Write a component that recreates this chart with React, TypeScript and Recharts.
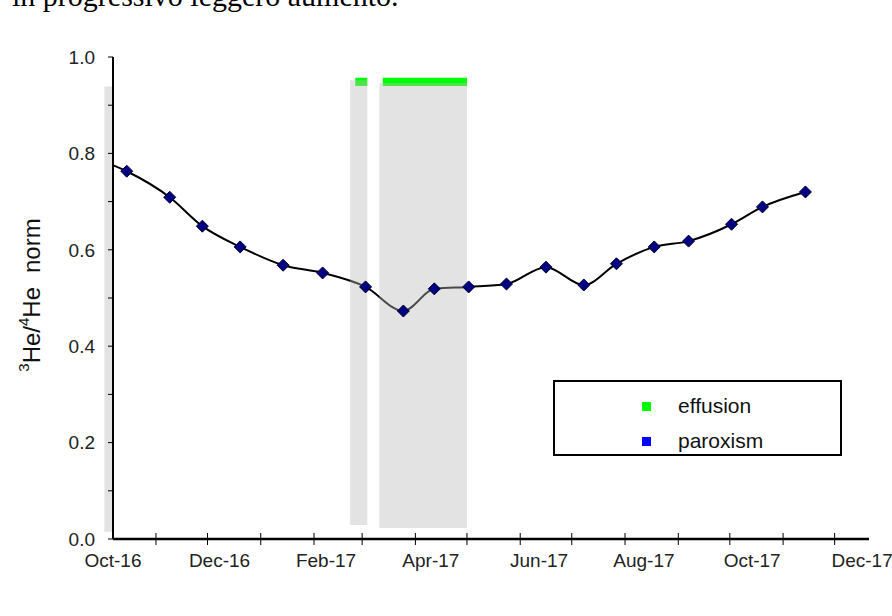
import { LineChart, Line, XAxis, YAxis, ReferenceArea } from 'recharts';

const day = (s: string) => Date.parse(s + 'T00:00:00Z');

// He isotope samples (first one sits left of the axis start, clipped like the original)
const sampleDates = [
  '2016-09-17', '2016-10-15', '2016-11-09', '2016-11-28', '2016-12-20',
  '2017-01-14', '2017-02-06', '2017-03-03', '2017-03-25', '2017-04-12',
  '2017-05-02', '2017-05-24', '2017-06-16', '2017-07-08', '2017-07-27',
  '2017-08-18', '2017-09-07', '2017-10-02', '2017-10-20', '2017-11-14',
];
const heRatio = [
  0.8, 0.763, 0.709, 0.649, 0.606,
  0.568, 0.552, 0.523, 0.473, 0.519,
  0.523, 0.529, 0.564, 0.527, 0.571,
  0.606, 0.618, 0.653, 0.689, 0.72,
];

// grey activity bands
const bandStart = ['2016-10-02', '2017-02-22', '2017-03-11'];
const bandEnd = ['2016-10-07', '2017-03-04', '2017-05-01'];
const bandLow = [0.015, 0.029, 0.023];
const bandHigh = [0.939, 0.952, 0.946];

// effusion periods
const effusionStart = ['2017-02-25', '2017-03-13'];
const effusionEnd = ['2017-03-04', '2017-05-01'];
const effusionLow = 0.94;
const effusionHigh = 0.957;

const xDomain = [day('2016-10-07'), day('2017-12-21')];
const monthTicks = [
  '2016-11-01', '2016-12-01', '2017-01-01', '2017-02-01', '2017-03-01',
  '2017-04-01', '2017-05-01', '2017-06-01', '2017-07-01', '2017-08-01',
  '2017-09-01', '2017-10-01', '2017-11-01', '2017-12-01',
].map(day);
const labelTicks = [
  '2016-10-07', '2016-12-08', '2017-02-08', '2017-04-10',
  '2017-06-12', '2017-08-12', '2017-10-14', '2017-12-17',
].map(day);
const tickLabels = ['Oct-16', 'Dec-16', 'Feb-17', 'Apr-17', 'Jun-17', 'Aug-17', 'Oct-17', 'Dec-17'];
const yTicks = [0, 0.1, 0.2, 0.3, 0.4, 0.5, 0.6, 0.7, 0.8, 0.9, 1.0];

const legendItems = [
  { name: 'effusion', color: '#00ff00' },
  { name: 'paroxism', color: '#0000ff' },
];

const FONT = '"Liberation Sans", Arial, sans-serif';

const data = sampleDates.map((d, i) => ({ t: day(d), v: heRatio[i] }));

function XTick({ x, y, payload }: any) {
  const v = payload.value;
  const li = labelTicks.indexOf(v);
  return (
    <g>
      {monthTicks.includes(v) && (
        <line x1={x} x2={x} y1={y - 6} y2={y + 6} stroke="#000" strokeWidth={1} />
      )}
      {li >= 0 && (
        <text x={x} y={y + 28} textAnchor="middle" fontSize={19} fontFamily={FONT} fill="#222">
          {tickLabels[li]}
        </text>
      )}
    </g>
  );
}

function YTick({ x, y, payload }: any) {
  const v = payload.value;
  if (Math.round(v * 10) % 2 !== 0) return <g />;
  return (
    <text x={x} y={y} dy="0.36em" textAnchor="end" fontSize={19} fontFamily={FONT} fill="#222">
      {v.toFixed(1)}
    </text>
  );
}

function Diamond({ cx, cy, index }: any) {
  if (cx == null || cy == null) return <g key={index} />;
  const r = 6;
  return (
    <polygon
      key={index}
      points={`${cx},${cy - r} ${cx + r},${cy} ${cx},${cy + r} ${cx - r},${cy}`}
      fill="#000080"
      stroke="#000030"
      strokeWidth={1}
    />
  );
}

function YTitle() {
  return (
    <text
      transform="translate(31,295) rotate(-90)"
      textAnchor="middle"
      dominantBaseline="central"
      fontSize={24}
      fontFamily={FONT}
      fill="#111"
    >
      <tspan fontSize={15} dy={-8}>3</tspan>
      <tspan dy={8}>He/</tspan>
      <tspan fontSize={15} dy={-8}>4</tspan>
      <tspan dy={8}>He</tspan>
      <tspan dx={14}>norm</tspan>
    </text>
  );
}

export default function App() {
  return (
    <div style={{ position: 'absolute', left: 0, top: 0, width: 892, height: 616, background: '#fff', overflow: 'hidden' }}>
      <div
        style={{
          position: 'absolute',
          left: 12,
          top: -19,
          fontFamily: '"Liberation Serif", "Times New Roman", serif',
          fontSize: 30,
          lineHeight: '30px',
          whiteSpace: 'nowrap',
          color: '#000',
        }}
      >
        in progressivo leggero aumento.
      </div>
      <LineChart width={892} height={616} data={data} margin={{ top: 57, right: 23, bottom: 37, left: 53 }}>
        <XAxis
          dataKey="t"
          type="number"
          domain={xDomain}
          allowDataOverflow
          ticks={[...monthTicks, ...labelTicks]}
          interval={0}
          tick={<XTick />}
          tickLine={false}
          tickSize={0}
          tickMargin={0}
          height={40}
          axisLine={{ stroke: '#000', strokeWidth: 2.5 }}
        />
        <YAxis
          type="number"
          domain={[0, 1]}
          ticks={yTicks}
          interval={0}
          width={60}
          tick={<YTick />}
          tickSize={5}
          tickMargin={13}
          tickLine={{ stroke: '#000', strokeWidth: 1 }}
          axisLine={{ stroke: '#000', strokeWidth: 2 }}
          label={<YTitle />}
        />
        <Line
          dataKey="v"
          type="monotone"
          stroke="#000"
          strokeWidth={2}
          dot={<Diamond />}
          activeDot={false}
          isAnimationActive={false}
        />
        {effusionStart.map((s, i) => (
          <ReferenceArea
            key={`eff-${i}`}
            x1={day(s)}
            x2={day(effusionEnd[i])}
            y1={effusionLow}
            y2={effusionHigh}
            fill="#00ff00"
            fillOpacity={1}
            stroke="none"
            ifOverflow="visible"
            zIndex={420}
          />
        ))}
        {bandStart.map((s, i) => (
          <ReferenceArea
            key={`band-${i}`}
            x1={day(s)}
            x2={day(bandEnd[i])}
            y1={bandLow[i]}
            y2={bandHigh[i]}
            fill="#b9b9b9"
            fillOpacity={0.4}
            stroke="none"
            ifOverflow="visible"
            zIndex={450}
          />
        ))}
      </LineChart>
      <div
        style={{
          position: 'absolute',
          left: 553,
          top: 380,
          width: 285,
          height: 72,
          border: '2px solid #000',
          fontFamily: FONT,
          fontSize: 21,
          color: '#111',
        }}
      >
        {legendItems.map((item, i) => (
          <div
            key={item.name}
            style={{ position: 'absolute', left: 87, top: 12 + i * 35, height: 24, display: 'flex', alignItems: 'center' }}
          >
            <span style={{ display: 'inline-block', width: 9, height: 9, background: item.color, marginRight: 27 }} />
            <span>{item.name}</span>
          </div>
        ))}
      </div>
    </div>
  );
}
